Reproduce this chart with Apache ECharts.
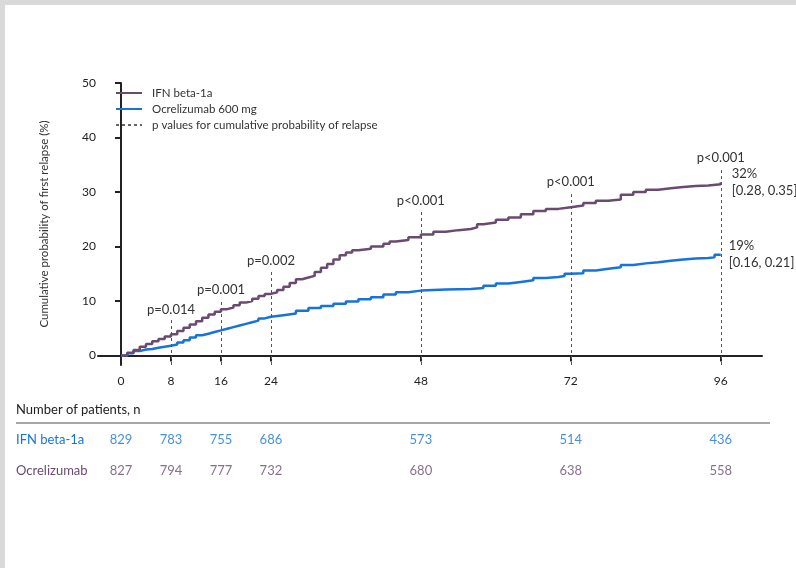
<!DOCTYPE html>
<html>
<head>
<meta charset="utf-8">
<script src="https://cdn.jsdelivr.net/npm/echarts@6/dist/echarts.min.js"></script>
<style>
  html, body { margin: 0; padding: 0; background: #fff; }
  #chart { width: 796px; height: 568px; }
</style>
</head>
<body>
<div id="chart"></div>
<script>
// cumulative probability of first relapse (%)
const ifnWeeks = [0, 1, 2, 3, 4, 5, 6, 7, 8, 9, 10, 11, 12, 13, 14, 15, 16, 17, 18, 19, 20, 21, 22, 23, 24,
  25, 26, 27, 28, 29, 30, 31, 32, 33, 34, 35, 36, 37, 38, 40, 42, 43, 44, 46, 48, 50, 52, 54, 56, 57, 58,
  60, 62, 64, 66, 68, 70, 72, 74, 76, 78, 80, 82, 84, 86, 88, 90, 92, 94, 96];
const ifnPct = [0, 0.5, 1.0, 1.6, 2.1, 2.6, 3.0, 3.5, 3.9, 4.5, 5.1, 5.7, 6.3, 6.9, 7.5, 8.0, 8.5, 8.8, 9.2, 9.7, 10.0, 10.4, 10.9, 11.3, 11.6,
  12.0, 12.6, 13.3, 14.0, 14.3, 14.6, 15.3, 16.1, 16.8, 17.6, 18.4, 18.9, 19.3, 19.6, 20.0, 20.5, 20.9, 21.2, 21.7, 22.2, 22.7, 23.0, 23.2, 23.5, 24.1, 24.4,
  24.9, 25.3, 25.9, 26.5, 26.9, 27.2, 27.5, 28.0, 28.4, 28.6, 29.5, 30.0, 30.4, 30.7, 30.9, 31.1, 31.2, 31.4, 31.8];

const ocrWeeks = [0, 1, 2, 3, 4, 5, 6, 7, 8, 9, 10, 11, 12, 13, 14, 15, 16, 17, 18, 19, 20, 21, 22, 23, 24,
  26, 28, 30, 32, 34, 36, 38, 40, 42, 44, 46, 48, 52, 56, 58, 60, 62, 64, 66, 68, 70, 71, 72,
  74, 76, 78, 80, 82, 84, 86, 88, 90, 92, 94, 95, 96];
const ocrPct = [0, 0.4, 0.8, 1.1, 1.2, 1.4, 1.6, 1.8, 2.0, 2.4, 2.8, 3.3, 3.7, 4.0, 4.3, 4.6, 4.9, 5.2, 5.5, 5.8, 6.1, 6.4, 6.8, 7.1, 7.4,
  7.7, 8.2, 8.7, 9.1, 9.5, 9.9, 10.3, 10.7, 11.2, 11.6, 11.9, 12.1, 12.2, 12.4, 12.8, 13.2, 13.5, 13.8, 14.2, 14.4, 14.6, 15.0, 15.1,
  15.6, 15.9, 16.2, 16.6, 16.9, 17.1, 17.4, 17.6, 17.8, 17.9, 18.0, 18.5, 18.6];

const xTicks = [0, 8, 16, 24, 48, 72, 96];
const yTicks = [0, 10, 20, 30, 40, 50];

// p value markers
const pWeeks = [8, 16, 24, 48, 72, 96];
const pLabels = ['p=0.014', 'p=0.001', 'p=0.002', 'p<0.001', 'p<0.001', 'p<0.001'];
const pTop = [6.5, 10.2, 15.4, 26.4, 30.0, 34.3];

const endLabels = ['32%\n[0.28, 0.35]', '19%\n[0.16, 0.21]'];

// number of patients table
const riskRows = ['IFN beta-1a', 'Ocrelizumab'];
const ifnRisk = [829, 783, 755, 686, 573, 514, 436];
const ocrRisk = [827, 794, 777, 732, 680, 638, 558];

const purple = '#6b4a72';
const blue = '#1673dc';
const font = 'Lato';
const xMin = -3.68, xMax = 102.6, yMin = -1.75;

const chart = echarts.init(document.getElementById('chart'));

const option = {
  animation: false,
  backgroundColor: '#fff',
  textStyle: { fontFamily: font },
  graphic: [
    { type: 'rect', left: 0, top: 0, z: -10, shape: { width: 796, height: 5 }, style: { fill: '#d9d9d9' } },
    { type: 'rect', left: 0, top: 0, z: -10, shape: { width: 5, height: 568 }, style: { fill: '#d9d9d9' } },
    { type: 'text', left: 16, top: 403, style: { text: 'Number of patients, n', fill: '#222', font: '13px ' + font } },
    { type: 'line', shape: { x1: 16, y1: 423, x2: 770, y2: 423 }, style: { stroke: '#8a8a8a', lineWidth: 1.5 } }
  ],
  legend: {
    orient: 'vertical',
    left: 110,
    top: 82,
    itemWidth: 26,
    itemHeight: 12,
    itemGap: 4,
    itemStyle: { opacity: 0 },
    textStyle: { fontSize: 11.5, color: '#333', fontFamily: font, padding: [0, 0, 0, 5] },
    data: ['IFN beta-1a', 'Ocrelizumab 600 mg', 'p values for cumulative probability of relapse']
  },
  grid: [
    { left: 98, right: 34, top: 83, bottom: 203 },
    { left: 98, right: 34, top: 424, height: 62 }
  ],
  xAxis: [
    {
      type: 'value', gridIndex: 0, min: xMin, max: xMax,
      splitLine: { show: false },
      axisLine: { lineStyle: { color: '#222', width: 2 } },
      axisTick: { length: 6, lineStyle: { color: '#222', width: 2 }, customValues: xTicks },
      axisLabel: { fontSize: 12, color: '#222', margin: 10, customValues: xTicks }
    },
    { type: 'value', gridIndex: 1, min: xMin, max: xMax, show: false }
  ],
  yAxis: [
    {
      type: 'value', gridIndex: 0, min: yMin, max: 50,
      name: 'Cumulative probability of first relapse (%)',
      nameLocation: 'middle', nameGap: 48,
      nameTextStyle: { fontSize: 11.5, color: '#333' },
      splitLine: { show: false },
      axisLine: { show: true, lineStyle: { color: '#222', width: 2 } },
      axisTick: { show: true, length: 6, lineStyle: { color: '#222', width: 2 }, customValues: yTicks },
      axisLabel: { fontSize: 12, color: '#222', margin: 2, customValues: yTicks }
    },
    {
      type: 'category', gridIndex: 1, inverse: true, data: riskRows,
      axisLine: { show: false }, axisTick: { show: false }, splitLine: { show: false },
      axisLabel: {
        align: 'left', margin: 82, fontSize: 13,
        color: function (v, i) { return i === 0 ? blue : purple; }
      }
    }
  ],
  series: [
    {
      name: 'IFN beta-1a', type: 'line', step: 'end', showSymbol: false, symbol: 'none',
      color: purple, lineStyle: { width: 2.5, color: purple }, z: 3,
      endLabel: { show: true, formatter: endLabels[0], distance: 11, color: '#333', fontSize: 13, lineHeight: 17 },
      data: ifnWeeks.map((w, i) => [w, ifnPct[i]])
    },
    {
      name: 'Ocrelizumab 600 mg', type: 'line', step: 'end', showSymbol: false, symbol: 'none',
      color: blue, lineStyle: { width: 2.5, color: blue }, z: 2,
      endLabel: { show: true, formatter: endLabels[1], distance: 8, color: '#333', fontSize: 13, lineHeight: 17 },
      data: ocrWeeks.map((w, i) => [w, ocrPct[i]])
    },
    {
      name: 'p values for cumulative probability of relapse', type: 'line', symbol: 'none',
      color: '#666', lineStyle: { type: [3, 3], width: 1, color: '#666' }, z: 1,
      data: [],
      markLine: {
        silent: true, symbol: 'none',
        lineStyle: { type: [3, 3], width: 1, color: '#555' },
        label: { position: 'end', color: '#333', fontSize: 13, distance: 4 },
        data: pWeeks.map((w, i) => [
          { coord: [w, yMin] },
          { coord: [w, pTop[i]], label: { formatter: pLabels[i] } }
        ])
      }
    },
    {
      name: 'riskIFN', type: 'scatter', xAxisIndex: 1, yAxisIndex: 1, symbolSize: 0,
      label: { show: true, position: 'inside', color: blue, fontSize: 13 },
      data: xTicks.map((w, i) => ({ value: [w, 0], label: { formatter: String(ifnRisk[i]) } }))
    },
    {
      name: 'riskOcr', type: 'scatter', xAxisIndex: 1, yAxisIndex: 1, symbolSize: 0,
      label: { show: true, position: 'inside', color: purple, fontSize: 13 },
      data: xTicks.map((w, i) => ({ value: [w, 1], label: { formatter: String(ocrRisk[i]) } }))
    }
  ]
};

chart.setOption(option);
</script>
</body>
</html>
